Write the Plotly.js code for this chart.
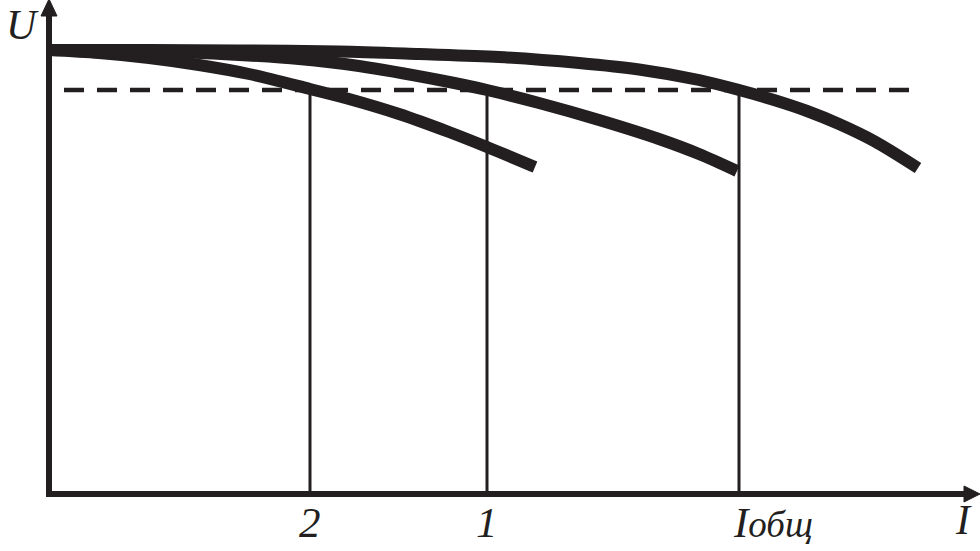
<!DOCTYPE html>
<html>
<head>
<meta charset="utf-8">
<script src="https://cdn.plot.ly/plotly-3.0.1.min.js"></script>
<style>html,body{margin:0;padding:0;background:#fff;}#chart{width:980px;height:551px;}</style>
</head>
<body>
<div id="chart"></div>
<script>
// Data (arbitrary units: I horizontal, U vertical)
const curveTotalI = [0, 100, 190, 290, 370, 450, 530, 590, 650, 690, 725, 758, 790, 825, 869];
const curveTotalU = [443, 443, 442.5, 441.5, 439, 436, 430, 423.5, 413, 403, 393, 382, 369, 352, 325];

const curve1I = [0, 100, 190, 250, 310, 390, 438, 490, 550, 610, 650, 688];
const curve1U = [443, 442, 438, 434, 427, 413, 403, 390, 373, 354, 339, 322];

const curve2I = [0, 50, 100, 150, 200, 261, 300, 350, 400, 438, 486];
const curve2U = [443, 440, 435, 428, 419, 404, 394, 379, 361, 346, 326];

const nominalU = 403;
const nominalSpan = [15, 863];
const operatingI = [261, 438, 690];
const operatingLabels = ['2', '1', 'I<span style="font-size:37px">общ</span>'];

const INK = '#231f20';
const FONT = 'Liberation Serif, Times New Roman, serif';

const traces = [];
// vertical drop lines
operatingI.forEach(function (x) {
  traces.push({x: [x, x], y: [0, nominalU], mode: 'lines', line: {color: INK, width: 3}, hoverinfo: 'skip'});
});
// dashed nominal voltage line
traces.push({x: nominalSpan, y: [nominalU, nominalU], mode: 'lines',
  line: {color: INK, width: 4.5, dash: '20px,13px'}, hoverinfo: 'skip'});
// curves
[[curve2I, curve2U], [curve1I, curve1U], [curveTotalI, curveTotalU]].forEach(function (c) {
  traces.push({x: c[0], y: c[1], mode: 'lines', line: {color: INK, width: 12, shape: 'spline', smoothing: 0.9}, hoverinfo: 'skip'});
});

const annotations = [
  {x: -27, y: 493, text: 'U', showarrow: false, font: {family: FONT, size: 42, color: INK, style: 'italic'}, xanchor: 'center', yanchor: 'top'},
  {x: 914, y: -27, text: 'I', showarrow: false, font: {family: FONT, size: 42, color: INK, style: 'italic'}, xanchor: 'center', yanchor: 'middle'}
];
operatingI.forEach(function (x, i) {
  annotations.push({x: x, y: -29, text: operatingLabels[i], showarrow: false,
    font: {family: FONT, size: 43, color: INK, style: 'italic'},
    xanchor: i === 2 ? 'left' : 'center', xshift: i === 2 ? -8 : 0, yanchor: 'middle'});
});

const shapes = [
  // y axis
  {type: 'line', xref: 'x', yref: 'y', x0: 0, y0: -1, x1: 0, y1: 478, line: {color: INK, width: 6}},
  {type: 'path', xref: 'x', yref: 'y', path: 'M -8 477 L 0 494 L 8 477 Z', fillcolor: INK, line: {color: INK, width: 1}},
  // x axis
  {type: 'line', xref: 'x', yref: 'y', x0: -3, y0: -1, x1: 917, y1: -1, line: {color: INK, width: 6}},
  {type: 'path', xref: 'x', yref: 'y', path: 'M 915 7 L 931 -1 L 915 -9 Z', fillcolor: INK, line: {color: INK, width: 1}}
];

const layout = {
  width: 980, height: 551,
  margin: {l: 0, r: 0, t: 0, b: 0, pad: 0},
  paper_bgcolor: '#ffffff', plot_bgcolor: '#ffffff',
  showlegend: false, hovermode: false,
  xaxis: {range: [-49, 931], showgrid: false, zeroline: false, showticklabels: false, showline: false, ticks: '', fixedrange: true},
  yaxis: {range: [-58, 493], showgrid: false, zeroline: false, showticklabels: false, showline: false, ticks: '', fixedrange: true},
  shapes: shapes,
  annotations: annotations
};

Plotly.newPlot('chart', traces, layout, {displayModeBar: false, staticPlot: true});
</script>
</body>
</html>
